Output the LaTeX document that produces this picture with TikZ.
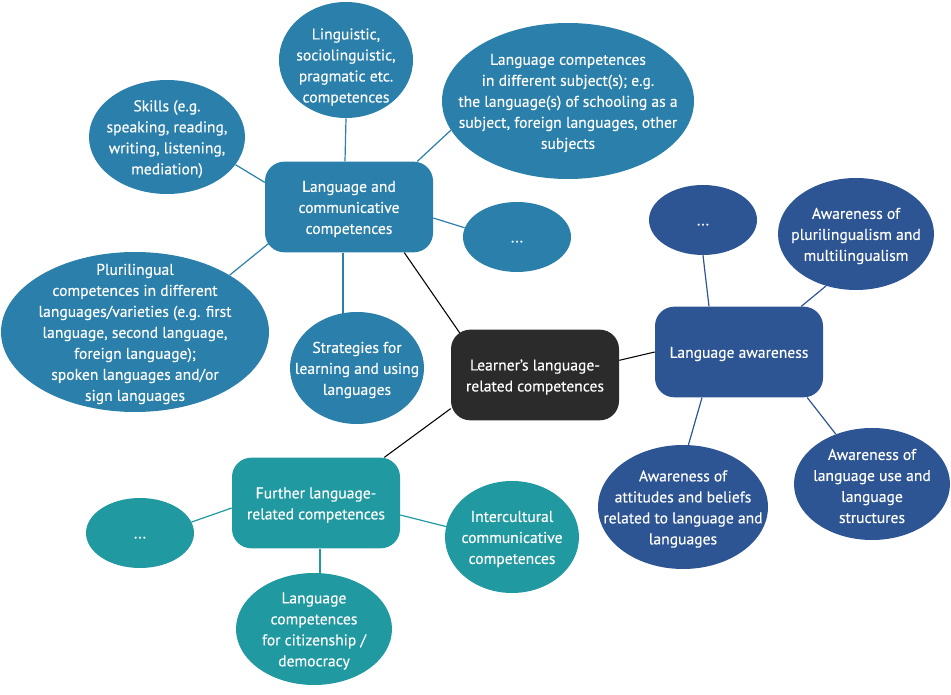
\documentclass[tikz,border=0pt]{standalone}
\usepackage{fontspec}
\setmainfont{PT Sans}[FakeBold=0.3]
\usetikzlibrary{shapes.geometric}
\pgfdeclarelayer{bg}
\pgfsetlayers{bg,main}
\definecolor{cblue}{HTML}{2A80AA}
\definecolor{cnavy}{HTML}{2E5593}
\definecolor{cteal}{HTML}{2199A1}
\definecolor{cdark}{HTML}{2B2B2B}
\tikzset{
  ell/.style n args={3}{ellipse, fill=#1, draw=none, inner sep=0pt,
     minimum width=#2*1.5pt, minimum height=#3*1.5pt},
  hub/.style={rectangle, rounded corners=14.5pt, fill=#1, draw=none,
     minimum width=126pt, minimum height=68pt, inner sep=0pt},
  txt/.style={text=white, align=center, font=\fontsize{11.7pt}{15.75pt}\selectfont, inner sep=0pt, yshift=-1.5pt},
  dots/.style={txt, yshift=-2pt},
  lnk/.style={draw=#1, line width=0.9pt},
  blk/.style={draw=black, line width=0.8pt}
}
\begin{document}
\begin{tikzpicture}[x=0.75pt,y=-0.75pt]
\useasboundingbox (0,0) rectangle (951,695);
% hubs
\node[hub=cdark] (lrn) at (535,375) {};
\node[hub=cblue] (lcc) at (349,207) {};
\node[hub=cnavy] (law) at (739,352) {};
\node[hub=cteal] (flc) at (316,503) {};
% blue ellipses
\node[ell={cblue}{67}{58}] (ling) at (346,60) {};
\node[ell={cblue}{78}{57}] (skil) at (167,137) {};
\node[ell={cblue}{126}{78}] (subj) at (568,101) {};
\node[ell={cblue}{54}{35}] (bdot) at (517,237) {};
\node[ell={cblue}{134}{80}] (plur) at (135,332) {};
\node[ell={cblue}{67}{56}] (strt) at (357,368) {};
% navy ellipses
\node[ell={cnavy}{54}{35}] (ndot) at (703,220) {};
\node[ell={cnavy}{78}{56}] (apm) at (856,234) {};
\node[ell={cnavy}{85}{62}] (aab) at (683,507) {};
\node[ell={cnavy}{78}{56}] (aus) at (872,484) {};
% teal ellipses
\node[ell={cteal}{54}{35}] (tdot) at (140,533) {};
\node[ell={cteal}{67}{56}] (icc) at (512,537) {};
\node[ell={cteal}{78}{56}] (cit) at (314,629) {};
% connectors
\begin{pgfonlayer}{bg}
\draw[blk] ([xshift=7pt,yshift=-3pt]lrn.north west) -- ([xshift=-21.75pt]lcc.south east);
\draw[blk] ([yshift=11pt]lrn.east) -- (law.west);
\draw[blk] ([yshift=9pt]lrn.south west) -- ([xshift=-12pt]flc.north east);
\draw[lnk=cblue] ([xshift=-3pt]lcc.north) -- (ling.south);
\draw[lnk=cblue] ([yshift=-15.75pt]lcc.north west) -- (skil.-22);
\draw[lnk=cblue] ([xshift=-12pt]lcc.north east) -- (subj.194);
\draw[lnk=cblue] ([yshift=-8.25pt]lcc.east) -- (bdot.170);
\draw[lnk=cblue] ([xshift=3.75pt,yshift=7.5pt]lcc.south west) -- (plur.31);
\draw[lnk=cblue] ([xshift=-4.5pt]lcc.south) -- ([xshift=-10.5pt,yshift=-3pt]strt.north);
\draw[lnk=cnavy] ([xshift=-22.5pt]law.north) -- (ndot.south);
\draw[lnk=cnavy] ([xshift=-16.5pt]law.north east) -- (apm.240);
\draw[lnk=cnavy] ([xshift=-27.75pt]law.south) -- (aab.85);
\draw[lnk=cnavy] ([xshift=-12pt]law.south east) -- (aus.126);
\draw[lnk=cteal] ([yshift=-3.75pt]flc.west) -- (tdot.12);
\draw[lnk=cteal] ([yshift=-9pt]flc.east) -- (icc.171);
\draw[lnk=cteal] ([xshift=3pt]flc.south) -- ([xshift=4.5pt,yshift=-3pt]cit.north);
\end{pgfonlayer}
% texts
\node[txt] (tlrn) at (lrn) {Learner’s language-\\related competences};
\node[txt] (tlcc) at (lcc) {Language and\\communicative\\competences};
\node[txt] (tlaw) at (law) {Language awareness};
\node[txt] (tflc) at (flc) {Further language-\\related competences};
\node[txt] (tling) at (346,65) {Linguistic,\\sociolinguistic,\\pragmatic etc.\\competences};
\node[txt] (tskil) at (skil) {Skills (e.g.\\speaking, reading,\\writing, listening,\\mediation)};
\node[txt] (tsubj) at (subj) {Language competences\\in different subject(s); e.g.\\the language(s) of schooling as a\\subject, foreign languages, other\\subjects};
\node[dots] (tbdot) at (bdot) {...};
\node[txt] (tplur) at (plur) {Plurilingual\\competences in different\\languages/varieties (e.g. first\\language, second language,\\foreign language);\\spoken languages and/or\\sign languages};
\node[txt] (tstrt) at (strt) {Strategies for\\learning and using\\languages};
\node[dots] (tndot) at (ndot) {...};
\node[txt] (tapm) at (apm) {Awareness of\\plurilingualism and\\multilingualism};
\node[txt] (taab) at (aab) {Awareness of\\attitudes and beliefs\\related to language and\\languages};
\node[txt] (taus) at (aus) {Awareness of\\language use and\\language\\structures};
\node[dots] (ttdot) at (tdot) {...};
\node[txt] (ticc) at (icc) {Intercultural\\communicative\\competences};
\node[txt] (tcit) at (cit) {Language\\competences\\for citizenship /\\democracy};
\end{tikzpicture}
\end{document}
